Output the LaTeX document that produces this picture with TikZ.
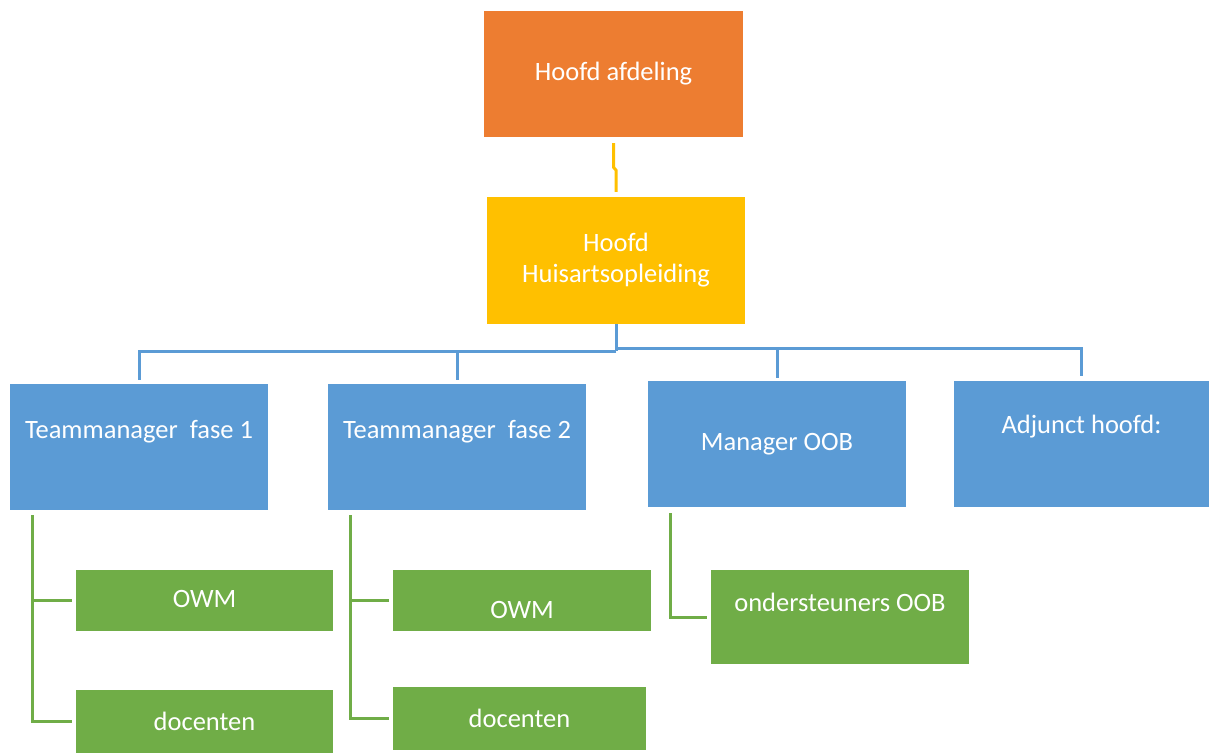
\documentclass[tikz,border=0pt]{standalone}
\usepackage{fontspec}
\setmainfont{Carlito}
\definecolor{afdorange}{HTML}{ED7D31}
\definecolor{haoyellow}{HTML}{FFC000}
\definecolor{tmblue}{HTML}{5B9BD5}
\definecolor{stgreen}{HTML}{70AD47}

\begin{document}
\begin{tikzpicture}[x=1pt,y=-1pt,
  txt/.style={text=white,align=center,font=\fontsize{26.5}{31}\selectfont},
  box/.style={rectangle,inner sep=0pt,txt},
  orangebox/.style={box,fill=afdorange,minimum width=259pt,minimum height=126pt},
  yellowbox/.style={box,fill=haoyellow,minimum width=258pt,minimum height=127pt},
  bluebox/.style={box,fill=tmblue,minimum width=258pt,minimum height=126pt},
  greenbox/.style={box,fill=stgreen,minimum width=257pt,minimum height=61pt},
  orglink/.style={draw=haoyellow,line width=3pt},
  bluelink/.style={draw=tmblue,line width=3pt},
  greenlink/.style={draw=stgreen,line width=3pt}]
  \useasboundingbox (0,0) rectangle (1209,753);
  % top
  \node[orangebox] (afd) at (613.5,74) {Hoofd afdeling};
  \node[yellowbox] (hao) at (616,260.5) {Hoofd\\Huisartsopleiding};
  % managers
  \node[bluebox,label={[txt,yshift=15pt]center:Teammanager\ \ fase 1}] (tm1) at (139,447) {};
  \node[bluebox,label={[txt,yshift=15pt]center:Teammanager\ \ fase 2}] (tm2) at (457,447) {};
  \node[bluebox] (oob) at (777,444) {Manager OOB};
  \node[bluebox,minimum width=255pt,label={[txt,yshift=17pt]center:Adjunct hoofd:}] (adj) at (1081.5,443.5) {};
  % staff
  \node[greenbox,label={[txt,yshift=2pt]center:OWM}] (owm1) at (204.5,600.5) {};
  \node[greenbox,minimum height=63pt] (doc1) at (204.5,721.5) {docenten};
  \node[greenbox,minimum width=258pt,label={[txt,yshift=-9pt]center:OWM}] (owm2) at (522,600.5) {};
  \node[greenbox,minimum width=253pt,minimum height=63pt] (doc2) at (519.5,718.5) {docenten};
  \node[greenbox,minimum width=258pt,minimum height=94pt,label={[txt,yshift=15pt]center:ondersteuners OOB}] (ost) at (840,617) {};

  \draw[orglink] ([yshift=-6pt]afd.south) -- ++(0,24) -- ++(2.5,3) -- ([yshift=5pt]hao.north);

  \draw[bluelink] (hao.south) -- ++(0,27) coordinate (hub);
  \draw[bluelink] (hub) -| ([yshift=4pt]tm1.north);
  \draw[bluelink] (hub) -| ([yshift=4pt]tm2.north);
  \draw[bluelink] ([yshift=3pt]hub) -| ([yshift=3pt]oob.north);
  \draw[bluelink] ([yshift=3pt]hub) -| ([yshift=4pt]adj.north);

  \draw[greenlink] ([xshift=23pt,yshift=-5pt]tm1.south west) |- ([xshift=-4pt]owm1.west);
  \draw[greenlink] ([xshift=23pt,yshift=-5pt]tm1.south west) |- ([xshift=-4pt]doc1.west);
  \draw[greenlink] ([xshift=23pt,yshift=-5pt]tm2.south west) |- ([xshift=-4pt]owm2.west);
  \draw[greenlink] ([xshift=23pt,yshift=-5pt]tm2.south west) |- ([xshift=-4pt]doc2.west);
  \draw[greenlink] ([xshift=23pt,yshift=-6pt]oob.south west) |- ([xshift=-4pt]ost.west);
\end{tikzpicture}
\end{document}
